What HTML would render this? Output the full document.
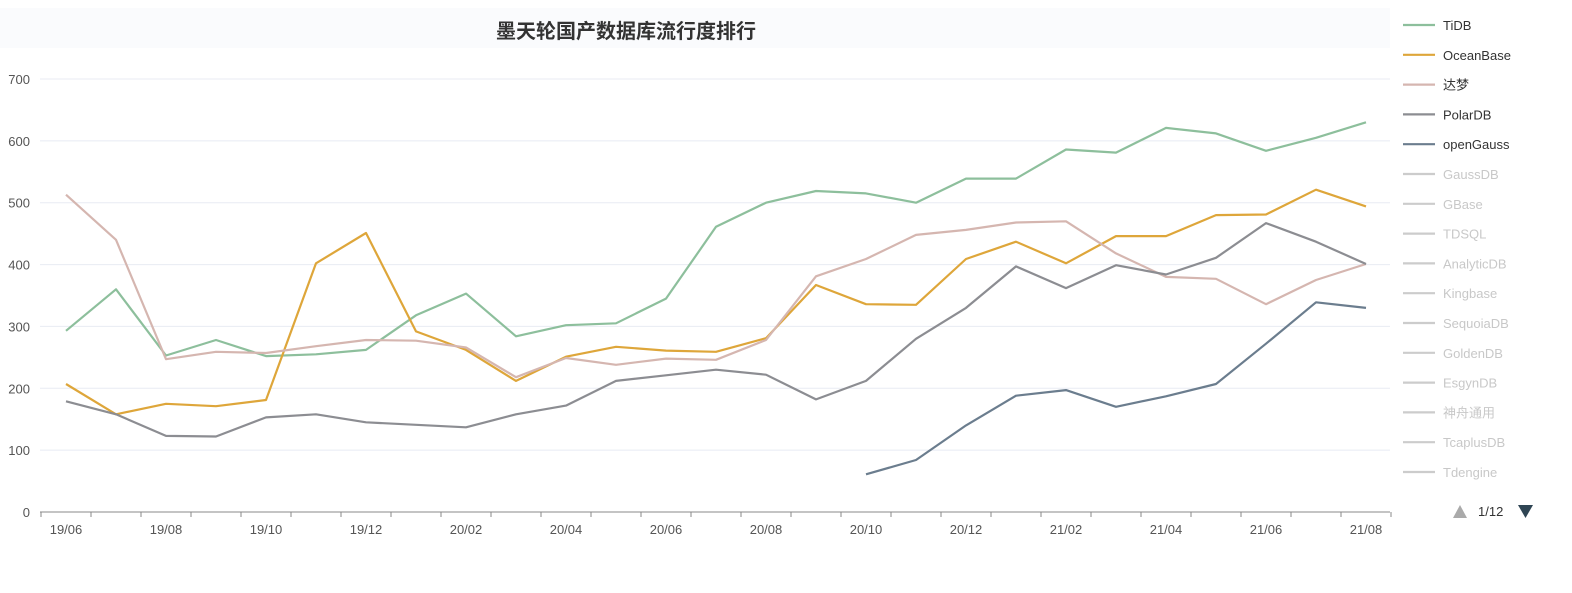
<!DOCTYPE html>
<html><head><meta charset="utf-8"><style>
body{margin:0;background:#fff;width:1572px;height:588px;overflow:hidden;font-family:"Liberation Sans","Noto Sans CJK SC",sans-serif}
</style></head><body>
<svg id="chart" width="1572" height="588" xmlns="http://www.w3.org/2000/svg" font-family="Liberation Sans, Noto Sans CJK SC, sans-serif">
<rect x="0" y="8" width="1390" height="40" fill="#fafbfd"/>
<text x="626" y="38" text-anchor="middle" font-size="20" font-weight="bold" fill="#333">墨天轮国产数据库流行度排行</text>
<g id="grid"></g><g id="axes"></g><g id="series"></g><g id="legend"></g>
</svg>
<script>
const categories=["19/06","19/07","19/08","19/09","19/10","19/11","19/12","20/01","20/02","20/03","20/04","20/05","20/06","20/07","20/08","20/09","20/10","20/11","20/12","21/01","21/02","21/03","21/04","21/05","21/06","21/07","21/08"];
const yTicks=[0,100,200,300,400,500,600,700];
const seriesNames=["TiDB","OceanBase","达梦","PolarDB","openGauss"];
const tidb=[293,360,253,278,252,255,262,318,353,284,302,305,345,461,500,519,515,500,539,539,586,581,621,612,584,605,630];
const oceanbase=[207,158,175,171,181,402,451,292,262,212,251,267,261,259,281,367,336,335,409,437,402,446,446,480,481,521,494];
const dameng=[513,440,247,259,257,268,278,277,266,218,249,238,248,246,278,381,409,448,456,468,470,418,380,377,336,375,401];
const polardb=[179,158,123,122,153,158,145,141,137,158,172,212,221,230,222,182,212,280,330,397,362,399,384,411,467,437,401];
const opengauss=[null,null,null,null,null,null,null,null,null,null,null,null,null,null,null,null,61,84,140,188,197,170,187,207,272,339,330];
const inactiveNames=["GaussDB","GBase","TDSQL","AnalyticDB","Kingbase","SequoiaDB","GoldenDB","EsgynDB","神舟通用","TcaplusDB","Tdengine"];
const colors=["#8dbf9c","#dea63a","#d5b6b0","#8c8d92","#6b7d8e"];
const NS="http://www.w3.org/2000/svg";
const x0=66,x1=1366,y0=512,y1=79;
const xs=i=>x0+(x1-x0)*i/(categories.length-1);
const ys=v=>y0-(y0-y1)*v/700;
function mk(tag,attrs,parent,txt){const e=document.createElementNS(NS,tag);for(const k in attrs)e.setAttribute(k,attrs[k]);if(txt!==undefined)e.textContent=txt;parent.appendChild(e);return e;}
const grid=document.getElementById('grid'),axes=document.getElementById('axes'),ser=document.getElementById('series'),leg=document.getElementById('legend');
yTicks.forEach(t=>{
 const l=mk('line',{x1:40,x2:1390,y1:ys(t),y2:ys(t),stroke:t===0?'#888':'#e8ebf3','stroke-width':1},grid);
 
 
 const tx=mk('text',{x:30,y:ys(t)+5,'text-anchor':'end','font-size':13,fill:'#555'},axes,String(t));
 
 
});
categories.forEach((c,i)=>{
 mk('line',{x1:xs(i)-25,x2:xs(i)-25,y1:512,y2:517,stroke:'#888'},axes);
 if(i%2===0){const tx=mk('text',{x:xs(i),y:534,'text-anchor':'middle','font-size':13,fill:'#555'},axes,c);
 
 }
});
mk('line',{x1:1391,x2:1391,y1:512,y2:517,stroke:'#888'},axes);
const data=[tidb,oceanbase,dameng,polardb,opengauss];
const seriesIds=["tidb","oceanbase","dameng","polardb","opengauss"];
data.forEach((arr,s)=>{
 let d='';let pen=false;
 arr.forEach((v,i)=>{if(v===null){pen=false;return;}d+=(pen?'L':'M')+xs(i).toFixed(1)+','+ys(v).toFixed(1);pen=true;});
 const p=mk('path',{d:d,fill:'none',stroke:colors[s],'stroke-width':2.2,'stroke-linejoin':'round'},ser);
 
 
});
const all=seriesNames.concat(inactiveNames);
all.forEach((n,i)=>{
 const y=25+i*29.8;const active=i<seriesNames.length;
 const g=mk('g',{},leg);
 
 
 mk('line',{x1:1403,x2:1435,y1:y,y2:y,stroke:active?colors[i]:'#ccc','stroke-width':2.2},g);
 mk('text',{x:1443,y:y+5,'font-size':13,fill:active?'#333':'#c8c8c8'},g,n);
});
const pg=mk('g',{},leg);


mk('path',{d:'M1453,518 L1460,505 L1467,518 Z',fill:'#aaa'},pg);
mk('text',{x:1478,y:516,'font-size':13,fill:'#333'},pg,'1/12');
mk('path',{d:'M1518,505 L1533,505 L1525.5,518 Z',fill:'#2f4554'},pg);
</script>
</body></html>
